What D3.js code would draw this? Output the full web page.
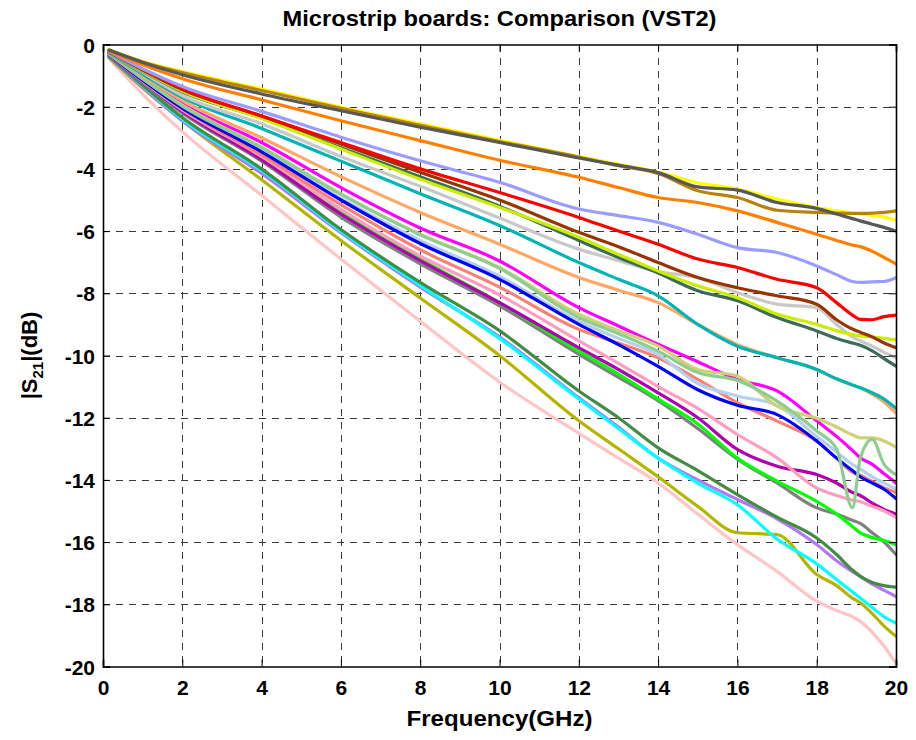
<!DOCTYPE html>
<html>
<head>
<meta charset="utf-8">
<script src="https://cdn.jsdelivr.net/npm/d3@7"></script>
<style>
  html, body { margin: 0; padding: 0; background: #ffffff; }
  svg { display: block; }
  text { font-family: "Liberation Sans", Arial, sans-serif; font-weight: bold; fill: #000; }
</style>
</head>
<body>
<svg id="chart" width="916" height="740"></svg>
<script>
// Frequency sample points (GHz) shared by every board trace
const freqGHz = [0.15, 1, 2, 4, 6, 8, 10, 12, 13, 14, 15, 16, 17, 18, 18.5, 18.9, 19.1, 19.4, 19.7, 20];

// |S21| in dB for each board, one value per frequency point
const boardYellow    = [-0.17,-0.55,-0.87,-1.43,-2.02,-2.55,-3.08,-3.6,-3.85,-4.1,-4.45,-4.65,-4.97,-5.24,-5.35,-5.42,-5.45,-5.5,-5.55,-5.65];
const boardGoldenrod = [-0.18,-0.56,-0.9,-1.48,-2.05,-2.6,-3.12,-3.62,-3.9,-4.15,-4.7,-4.92,-5.33,-5.4,-5.42,-5.43,-5.43,-5.42,-5.4,-5.35];
const boardDarkGray  = [-0.18,-0.58,-0.97,-1.59,-2.13,-2.66,-3.15,-3.65,-3.88,-4.12,-4.58,-4.68,-5.08,-5.27,-5.45,-5.6,-5.67,-5.78,-5.88,-6.0];
const boardOrange    = [-0.2,-0.65,-1.1,-1.78,-2.45,-3.09,-3.72,-4.27,-4.6,-4.92,-5.08,-5.35,-5.72,-6.1,-6.3,-6.45,-6.5,-6.65,-6.85,-7.05];
const boardLavender  = [-0.22,-0.78,-1.35,-2.15,-2.98,-3.74,-4.43,-5.29,-5.5,-5.72,-6.1,-6.53,-6.69,-7.12,-7.4,-7.62,-7.65,-7.63,-7.62,-7.5];
const boardRed       = [-0.22,-0.8,-1.42,-2.3,-3.15,-4.0,-4.76,-5.56,-6.0,-6.42,-6.9,-7.17,-7.55,-7.82,-8.3,-8.7,-8.84,-8.85,-8.75,-8.7];
const boardBrown     = [-0.24,-0.82,-1.45,-2.3,-3.2,-4.11,-5.0,-6.04,-6.5,-7.01,-7.49,-7.82,-8.08,-8.35,-8.85,-9.15,-9.25,-9.4,-9.6,-9.75];
const boardLime      = [-0.24,-0.85,-1.5,-2.38,-3.36,-4.33,-5.24,-6.2,-6.75,-7.28,-7.76,-8.14,-8.67,-9.0,-9.2,-9.33,-9.37,-9.4,-9.45,-9.5];
const boardSlate     = [-0.25,-0.86,-1.52,-2.36,-3.32,-4.25,-5.2,-6.3,-6.85,-7.35,-7.92,-8.24,-8.78,-9.21,-9.45,-9.6,-9.67,-9.85,-10.1,-10.34];
const boardSilver    = [-0.26,-0.9,-1.64,-2.55,-3.6,-4.56,-5.58,-6.58,-6.95,-7.3,-7.5,-7.98,-8.35,-8.46,-9.0,-9.4,-9.53,-9.7,-9.9,-10.07];
const boardTeal      = [-0.27,-0.95,-1.7,-2.7,-3.75,-4.8,-5.82,-7.01,-7.55,-8.08,-9.0,-9.7,-10.07,-10.45,-10.75,-10.95,-11.04,-11.2,-11.4,-11.7];
const boardApricot   = [-0.28,-1.0,-1.8,-3.0,-4.25,-5.4,-6.42,-7.49,-7.9,-8.3,-9.0,-9.65,-10.07,-10.45,-10.75,-10.95,-11.04,-11.25,-11.5,-11.85];
const boardMagenta   = [-0.3,-1.08,-1.91,-3.15,-4.6,-5.9,-6.96,-8.46,-9.05,-9.64,-10.2,-10.77,-11.14,-12.1,-12.6,-13.05,-13.29,-13.5,-13.8,-14.1];
const boardKhaki     = [-0.3,-1.1,-1.95,-3.3,-4.8,-6.1,-7.17,-8.67,-9.2,-9.7,-10.45,-10.66,-11.63,-12.02,-12.3,-12.55,-12.65,-12.65,-12.75,-12.95];
const boardMint      = [-0.3,-1.1,-1.98,-3.32,-4.82,-6.12,-7.2,-8.78,-9.3,-9.86,-10.55,-10.8,-11.47,-12.43,-13.0,-14.9,-13.3,-12.7,-13.5,-13.83];
const boardSky       = [-0.31,-1.12,-2.0,-3.4,-4.95,-6.3,-7.45,-8.9,-9.45,-9.97,-10.9,-11.3,-11.6,-12.6,-13.1,-13.5,-13.65,-13.9,-14.1,-14.3];
const boardBlue      = [-0.32,-1.15,-2.05,-3.45,-5.0,-6.4,-7.55,-9.0,-9.65,-10.35,-11.1,-11.6,-11.9,-12.75,-13.3,-13.7,-13.9,-14.1,-14.3,-14.6];
const boardSalmon    = [-0.32,-1.15,-2.07,-3.55,-5.15,-6.6,-7.8,-9.16,-9.6,-10.07,-10.77,-11.52,-12.11,-12.75,-13.3,-13.75,-13.85,-14.05,-14.25,-14.4];
const boardPink      = [-0.33,-1.18,-2.1,-3.6,-5.3,-6.8,-8.05,-9.53,-10.25,-11.0,-11.7,-12.54,-13.29,-14.26,-14.5,-14.65,-14.7,-14.85,-15.0,-15.2];
const boardPlum      = [-0.34,-1.2,-2.15,-3.7,-5.45,-6.95,-8.3,-9.75,-10.45,-11.2,-12.0,-13.02,-13.56,-13.83,-14.1,-14.4,-14.5,-14.75,-14.95,-15.1];
const boardGreen     = [-0.34,-1.2,-2.15,-3.65,-5.4,-6.9,-8.3,-9.86,-10.6,-11.4,-12.2,-13.3,-14.04,-14.69,-15.1,-15.5,-15.7,-15.85,-15.95,-16.08];
const boardGray      = [-0.35,-1.22,-2.2,-3.75,-5.55,-7.05,-8.4,-9.96,-10.7,-11.45,-12.35,-13.33,-14.1,-14.9,-15.1,-15.3,-15.4,-15.7,-16.0,-16.4];
const boardForest    = [-0.38,-1.3,-2.35,-4.0,-5.95,-7.65,-9.2,-11.14,-12.0,-12.97,-13.7,-14.47,-15.2,-15.87,-16.4,-16.9,-17.1,-17.3,-17.4,-17.45];
const boardCyan      = [-0.38,-1.32,-2.4,-4.05,-6.0,-7.75,-9.45,-11.4,-12.35,-13.3,-14.1,-14.8,-15.9,-16.7,-17.2,-17.6,-17.8,-18.1,-18.4,-18.6];
const boardViolet    = [-0.4,-1.38,-2.45,-4.15,-6.05,-7.8,-9.4,-11.36,-12.3,-13.3,-14.0,-14.63,-15.25,-16.08,-16.6,-16.95,-17.1,-17.35,-17.55,-17.75];
const boardOlive     = [-0.42,-1.4,-2.45,-4.35,-6.3,-8.15,-10.0,-12.1,-13.0,-13.9,-14.85,-15.7,-15.76,-17.04,-17.4,-17.8,-17.95,-18.3,-18.7,-19.03];
const boardRose      = [-0.45,-1.6,-2.8,-4.85,-6.9,-8.9,-10.85,-12.5,-13.3,-14.1,-15.1,-16.08,-16.94,-17.9,-18.2,-18.4,-18.55,-18.9,-19.35,-19.9];

// Axis ticks
const xTicks = [0, 2, 4, 6, 8, 10, 12, 14, 16, 18, 20];
const yTicks = [0, -2, -4, -6, -8, -10, -12, -14, -16, -18, -20];

// Trace list in drawing order (later traces sit on top)
const traces = [
  { values: boardRose,      color: "#ffc4c4" },
  { values: boardOlive,     color: "#b5b500" },
  { values: boardViolet,    color: "#b377f2" },
  { values: boardCyan,      color: "#00ffff" },
  { values: boardForest,    color: "#438c43" },
  { values: boardGray,      color: "#808080" },
  { values: boardGreen,     color: "#00ff00" },
  { values: boardPlum,      color: "#b000b0" },
  { values: boardPink,      color: "#ff9dc0" },
  { values: boardSalmon,    color: "#fa8072" },
  { values: boardSky,       color: "#b4d0ee" },
  { values: boardBlue,      color: "#0000ff" },
  { values: boardMagenta,   color: "#ff00ff" },
  { values: boardKhaki,     color: "#d0d074" },
  { values: boardMint,      color: "#8dce8d" },
  { values: boardApricot,   color: "#ffa866" },
  { values: boardTeal,      color: "#00b4b4" },
  { values: boardSilver,    color: "#c8c8c8" },
  { values: boardSlate,     color: "#3c6b58" },
  { values: boardLime,      color: "#cbee00" },
  { values: boardBrown,     color: "#993300" },
  { values: boardRed,       color: "#ff0000" },
  { values: boardLavender,  color: "#9c9cff" },
  { values: boardOrange,    color: "#ff8000" },
  { values: boardYellow,    color: "#ffff00" },
  { values: boardGoldenrod, color: "#b8820c" },
  { values: boardDarkGray,  color: "#585858" }
];

const svg = d3.select("#chart");
const plot = { left: 103, right: 896, top: 44.5, bottom: 666.5 };

const x = d3.scaleLinear().domain([0, 20]).range([plot.left, plot.right]);
const y = d3.scaleLinear().domain([-20, 0]).range([plot.bottom, plot.top]);

// Dashed grid
const grid = svg.append("g").attr("stroke", "#3a3a3a").attr("stroke-width", 1)
  .attr("stroke-dasharray", "7,6").attr("shape-rendering", "crispEdges");
grid.selectAll("line.gx").data(xTicks.slice(1, -1)).join("line")
  .attr("x1", d => Math.round(x(d)) + 0.5).attr("x2", d => Math.round(x(d)) + 0.5)
  .attr("y1", plot.top).attr("y2", plot.bottom);
grid.selectAll("line.gy").data(yTicks.slice(1, -1)).join("line")
  .attr("y1", d => Math.round(y(d)) + 0.5).attr("y2", d => Math.round(y(d)) + 0.5)
  .attr("x1", plot.left).attr("x2", plot.right);

// Traces
svg.append("clipPath").attr("id", "plotClip").append("rect")
  .attr("x", plot.left).attr("y", plot.top)
  .attr("width", plot.right - plot.left).attr("height", plot.bottom - plot.top);

const line = d3.line()
  .x((d, i) => x(freqGHz[i]))
  .y(d => y(d))
  .curve(d3.curveMonotoneX);

svg.append("g").attr("clip-path", "url(#plotClip)")
  .selectAll("path").data(traces).join("path")
  .attr("d", d => line(d.values))
  .attr("fill", "none")
  .attr("stroke", d => d.color)
  .attr("stroke-width", 3.2)
  .attr("stroke-linejoin", "round")
  .attr("stroke-linecap", "round");

// Axes with inward ticks, box on all sides
const tickLen = 7;
const plain = d => String(d);
const xAxisB = d3.axisBottom(x).tickValues(xTicks).tickSize(-tickLen).tickFormat(plain);
const xAxisT = d3.axisTop(x).tickValues(xTicks).tickSize(-tickLen).tickFormat("");
const yAxisL = d3.axisLeft(y).tickValues(yTicks).tickSize(-tickLen).tickFormat(plain);
const yAxisR = d3.axisRight(y).tickValues(yTicks).tickSize(-tickLen).tickFormat("");

function styleAxis(g) {
  g.select(".domain").attr("stroke", "#000").attr("stroke-width", 1.6);
  g.selectAll(".tick line").attr("stroke", "#000").attr("stroke-width", 1);
  g.selectAll(".tick text").attr("font-size", 21).attr("font-weight", "bold")
    .attr("font-family", "Liberation Sans, Arial, sans-serif").attr("fill", "#000");
}

const gxB = svg.append("g").attr("transform", `translate(0,${plot.bottom})`).call(xAxisB).call(styleAxis);
gxB.selectAll(".tick text").attr("y", 14).attr("dy", "0.71em");
svg.append("g").attr("transform", `translate(0,${plot.top})`).call(xAxisT).call(styleAxis);
const gyL = svg.append("g").attr("transform", `translate(${plot.left},0)`).call(yAxisL).call(styleAxis);
gyL.selectAll(".tick text").attr("x", -8).attr("dy", "0.36em");
svg.append("g").attr("transform", `translate(${plot.right},0)`).call(yAxisR).call(styleAxis);

// Title and axis labels
svg.append("text")
  .attr("x", (plot.left + plot.right) / 2).attr("y", 26)
  .attr("text-anchor", "middle").attr("font-size", 22)
  .attr("textLength", 434).attr("lengthAdjust", "spacingAndGlyphs")
  .text("Microstrip boards: Comparison (VST2)");

svg.append("text")
  .attr("x", (plot.left + plot.right) / 2).attr("y", 726)
  .attr("text-anchor", "middle").attr("font-size", 22)
  .attr("textLength", 186).attr("lengthAdjust", "spacingAndGlyphs")
  .text("Frequency(GHz)");

const yl = svg.append("text")
  .attr("transform", `translate(37,${(plot.top + plot.bottom) / 2}) rotate(-90)`)
  .attr("text-anchor", "middle").attr("font-size", 22);
yl.append("tspan").text("|S");
yl.append("tspan").attr("font-size", 15).attr("dy", 6).text("21");
yl.append("tspan").attr("dy", -6).text("|(dB)");
</script>
</body>
</html>
